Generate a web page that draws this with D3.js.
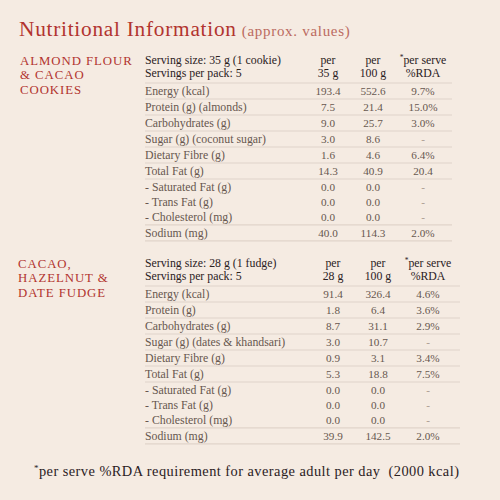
<!DOCTYPE html>
<html><head><meta charset="utf-8">
<script src="https://cdn.jsdelivr.net/npm/d3@7"></script>
<style>
html,body{margin:0;padding:0;background:#f5ebe2;}
svg{display:block;font-family:"Liberation Serif","Times New Roman",serif;}
text{white-space:pre;}
</style></head>
<body><svg id="c" width="500" height="500"></svg>
<script>
// ---- data ----
const title = "Nutritional Information";
const subtitle = "(approx. values)";
const productNames = [["ALMOND FLOUR","& CACAO","COOKIES"],["CACAO,","HAZELNUT &","DATE FUDGE"]];
const servingSize = ["Serving size: 35 g (1 cookie)","Serving size: 28 g (1 fudge)"];
const servingsPerPack = ["Servings per pack: 5","Servings per pack: 5"];
const colHeads1 = [["per","35 g"],["per","100 g"],["per serve","%RDA"]];
const colHeads2 = [["per","28 g"],["per","100 g"],["per serve","%RDA"]];
const rowLabels1 = ["Energy (kcal)","Protein (g) (almonds)","Carbohydrates (g)","Sugar (g) (coconut sugar)","Dietary Fibre (g)","Total Fat (g)","- Saturated Fat (g)","- Trans Fat (g)","- Cholesterol (mg)","Sodium (mg)"];
const rowLabels2 = ["Energy (kcal)","Protein (g)","Carbohydrates (g)","Sugar (g) (dates & khandsari)","Dietary Fibre (g)","Total Fat (g)","- Saturated Fat (g)","- Trans Fat (g)","- Cholesterol (mg)","Sodium (mg)"];
const subRow = [false,false,false,false,false,false,true,true,true,false];
const perServe1 = ["193.4","7.5","9.0","3.0","1.6","14.3","0.0","0.0","0.0","40.0"];
const per100g1  = ["552.6","21.4","25.7","8.6","4.6","40.9","0.0","0.0","0.0","114.3"];
const rda1      = ["9.7%","15.0%","3.0%","-","6.4%","20.4","-","-","-","2.0%"];
const perServe2 = ["91.4","1.8","8.7","3.0","0.9","5.3","0.0","0.0","0.0","39.9"];
const per100g2  = ["326.4","6.4","31.1","10.7","3.1","18.8","0.0","0.0","0.0","142.5"];
const rda2      = ["4.6%","3.6%","2.9%","-","3.4%","7.5%","-","-","-","2.0%"];
const footnote = "per serve %RDA requirement for average adult per day  (2000 kcal)";

// ---- drawing ----
const svg = d3.select("#c");
const RED = "#b2342f", DARK = "#2b211e", BODY = "#67574f", LINE = "#e0d4ca";

const t0 = svg.append("text").attr("x",19).attr("y",36).attr("font-size",21.3).attr("fill",RED)
  .attr("letter-spacing",0.75).text(title);
t0.append("tspan").attr("dx",5).attr("font-size",15).attr("letter-spacing",0.7)
  .attr("fill","#bb6a60").text(subtitle);

const tables = [
  {names:productNames[0], ss:servingSize[0], sp:servingsPerPack[0], heads:colHeads1, labels:rowLabels1,
   cols:[perServe1,per100g1,rda1], top:83, nameX:20, colX:[328,373,423], right:452},
  {names:productNames[1], ss:servingSize[1], sp:servingsPerPack[1], heads:colHeads2, labels:rowLabels2,
   cols:[perServe2,per100g2,rda2], top:286, nameX:18, colX:[333,378,428], right:460}
];

tables.forEach(t => {
  const g = svg.append("g");
  const heights = subRow.map(s => s ? 15.3 : 16);
  const starts = [];
  let acc = 0;
  heights.forEach(h => { starts.push(acc); acc += h; });
  const y = d3.scaleLinear().domain([0,acc]).range([t.top, t.top+acc]);
  const x = d3.scaleOrdinal().domain([0,1,2]).range(t.colX);

  // product name
  g.selectAll("text.pn").data(t.names).join("text").attr("class","pn")
    .attr("x",t.nameX).attr("y",(d,i)=>t.top-18+i*14.3)
    .attr("font-size",12.8).attr("fill",RED).attr("letter-spacing",0.95).text(d=>d);

  // header
  const HS = 11.8;
  g.append("text").attr("x",145).attr("y",t.top-19).attr("font-size",HS).attr("fill",DARK).text(t.ss);
  g.append("text").attr("x",145).attr("y",t.top-6).attr("font-size",HS).attr("fill",DARK).text(t.sp);
  t.heads.forEach((h,ci)=>{
    const tx = g.append("text").attr("x",x(ci)).attr("y",t.top-19).attr("text-anchor","middle")
      .attr("font-size",HS).attr("fill",DARK);
    if (ci===2) { tx.append("tspan").attr("font-size",7.5).attr("dy",-4).text("*");
                  tx.append("tspan").attr("dy",4).text(h[0]); }
    else tx.text(h[0]);
    g.append("text").attr("x",x(ci)).attr("y",t.top-6).attr("text-anchor","middle")
      .attr("font-size",HS).attr("fill",DARK).text(h[1]);
  });

  // lines: header line, and after every row except between consecutive sub rows
  const lineYs = [0];
  subRow.forEach((s,i)=>{
    const nextSub = i+1<subRow.length && subRow[i+1];
    if (!(s && nextSub)) lineYs.push(starts[i]+heights[i]);
  });
  g.selectAll("line").data(lineYs).join("line")
    .attr("x1",145).attr("x2",t.right).attr("y1",d=>y(d)).attr("y2",d=>y(d))
    .attr("stroke",LINE).attr("stroke-width",1.2);

  // row labels
  g.selectAll("text.rl").data(t.labels).join("text").attr("class","rl")
    .attr("x",145).attr("y",(d,i)=>y(starts[i]+heights[i]/2)+4)
    .attr("font-size",11.8).attr("fill",BODY).text(d=>d);

  // values
  t.cols.forEach((col,ci)=>{
    g.selectAll("text.v"+ci).data(col).join("text").attr("class","v"+ci)
      .attr("x",x(ci)).attr("y",(d,i)=>y(starts[i]+heights[i]/2)+4)
      .attr("text-anchor","middle").attr("font-size",11.2)
      .attr("fill",d=>d==="-"?"#a8998f":BODY).text(d=>d);
  });
});

const fn = svg.append("text").attr("x",34).attr("y",476).attr("font-size",14.4)
  .attr("letter-spacing",0.45).attr("fill",DARK);
fn.append("tspan").attr("font-size",9).attr("dy",-5).text("*");
fn.append("tspan").attr("dy",5).text(footnote);
</script></body></html>
